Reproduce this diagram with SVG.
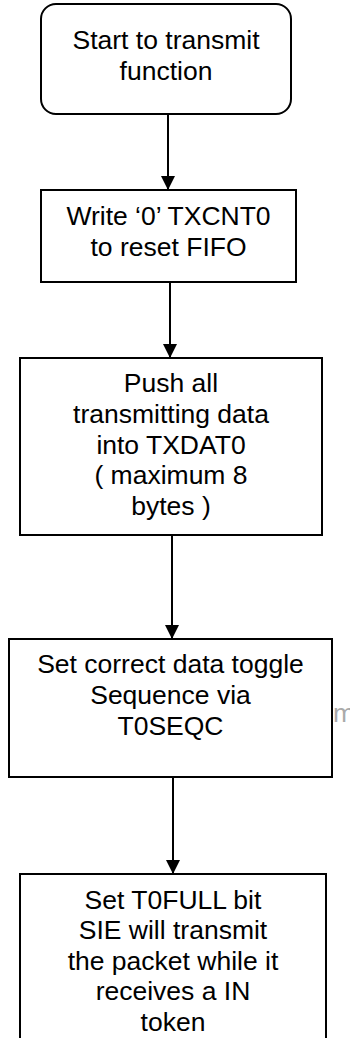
<svg xmlns="http://www.w3.org/2000/svg" width="350" height="1038" viewBox="0 0 350 1038">
<style>
.box{fill:#fff;stroke:#000;stroke-width:2}
.t{font-family:"Liberation Sans",Arial,sans-serif;font-size:26.5px;fill:#000;text-anchor:middle}
.c{stroke:#000;stroke-width:2;fill:none}
.ghost{font-family:"Liberation Sans",Arial,sans-serif;font-size:26.5px;fill:#aaaaaa}
</style>
<defs>
<marker id="ah" markerUnits="userSpaceOnUse" markerWidth="15" markerHeight="14" refX="14" refY="7" orient="auto" viewBox="0 0 15 14">
<path d="M0,0 L14,7 L0,14 z" fill="#000"/>
</marker>
</defs>
<rect width="350" height="1038" fill="#fff"/>
<text class="ghost" x="333" y="722">m</text>
<g id="connectors">
<line class="c" x1="168" y1="114" x2="168" y2="190" marker-end="url(#ah)"/>
<line class="c" x1="170" y1="282" x2="170" y2="358" marker-end="url(#ah)"/>
<line class="c" x1="172" y1="535" x2="172" y2="639" marker-end="url(#ah)"/>
<line class="c" x1="173" y1="777" x2="173" y2="874" marker-end="url(#ah)"/>
</g>
<g id="start">
<rect class="box" x="41" y="4" width="250" height="110" rx="15" ry="15"/>
<text class="t" x="166" y="49">Start to transmit</text>
<text class="t" x="166" y="80">function</text>
</g>
<g id="reset">
<rect class="box" x="41" y="190" width="255" height="92"/>
<text class="t" x="168.5" y="225">Write ‘0’ TXCNT0</text>
<text class="t" x="168.5" y="256">to reset FIFO</text>
</g>
<g id="push">
<rect class="box" x="20" y="358" width="302" height="177"/>
<text class="t" x="171" y="392">Push all</text>
<text class="t" x="171" y="423">transmitting data</text>
<text class="t" x="171" y="454">into TXDAT0</text>
<text class="t" x="171" y="484">( maximum 8</text>
<text class="t" x="171" y="515">bytes )</text>
</g>
<g id="toggle">
<rect class="box" x="9" y="639" width="323" height="138"/>
<text class="t" x="170.5" y="673">Set correct data toggle</text>
<text class="t" x="170.5" y="704">Sequence via</text>
<text class="t" x="170.5" y="735">T0SEQC</text>
</g>
<g id="full">
<rect class="box" x="20" y="874" width="306" height="180"/>
<text class="t" x="173" y="909">Set T0FULL bit</text>
<text class="t" x="173" y="939">SIE will transmit</text>
<text class="t" x="173" y="970">the packet while it</text>
<text class="t" x="173" y="1000">receives a IN</text>
<text class="t" x="173" y="1031">token</text>
</g>
</svg>
